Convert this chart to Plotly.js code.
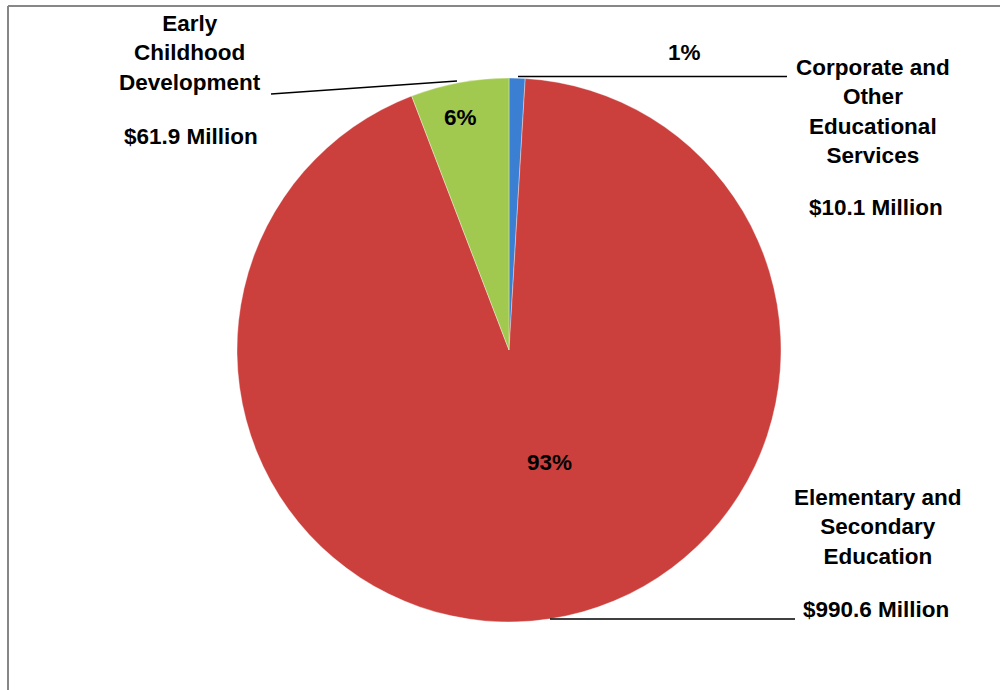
<!DOCTYPE html>
<html>
<head>
<meta charset="utf-8">
<script src="https://cdn.plot.ly/plotly-3.0.1.min.js"></script>
<style>html,body{margin:0;padding:0;background:#fff}#chart{width:1000px;height:690px}</style>
</head>
<body>
<div id="chart"></div>
<script>
const categories = ['Corporate and<br>Other<br>Educational<br>Services', 'Elementary and<br>Secondary<br>Education', 'Early<br>Childhood<br>Development'];
const valuesMillions = [10.1, 990.6, 61.9];
const sliceColors = ['#3b7fd3', '#cb403d', '#a2c94f'];

const total = valuesMillions.reduce((a, b) => a + b, 0);
const pct = valuesMillions.map(v => Math.round(v / total * 100) + '%');
const money = valuesMillions.map(v => '$' + v.toFixed(1) + ' Million');

const W = 1000, H = 690;
const px = x => x / W;
const py = y => 1 - y / H;

const font = {family: 'Liberation Sans, Arial, sans-serif', size: 22.5, color: '#000', weight: 'bold'};

const trace = {
  type: 'pie',
  labels: categories,
  values: valuesMillions,
  sort: false,
  direction: 'clockwise',
  rotation: 0,
  textinfo: 'none',
  hoverinfo: 'none',
  marker: {colors: sliceColors, line: {color: 'rgba(255,255,255,0.35)', width: 1}},
  domain: {x: [px(237), px(781)], y: [py(622), py(78)]},
  showlegend: false
};

function ann(text, x, y, extra) {
  return Object.assign({text: '<b>' + text.split('<br>').join('</b><br><b>') + '</b>', x: px(x), y: py(y), xref: 'paper', yref: 'paper',
    showarrow: false, font: font, align: 'center', xanchor: 'center', yanchor: 'middle'}, extra || {});
}

const annotations = [
  ann(categories[2], 190, 53),
  ann(money[2], 191, 136),
  ann(pct[0], 684, 53),
  ann(categories[0], 873, 112),
  ann(money[0], 876, 208),
  ann(pct[2], 460, 117),
  ann(pct[1], 549, 462),
  ann(categories[1], 878, 527),
  ann(money[1], 876, 609)
];

const shapes = [
  {type: 'line', xref: 'paper', yref: 'paper', x0: px(8), x1: px(8), y0: py(6), y1: py(690), line: {color: '#878787', width: 2}},
  {type: 'line', xref: 'paper', yref: 'paper', x0: px(8), x1: px(1000), y0: py(6), y1: py(6), line: {color: '#878787', width: 2}},
  {type: 'line', xref: 'paper', yref: 'paper', x0: px(271), x1: px(457), y0: py(94), y1: py(81), line: {color: '#000', width: 1.5}},
  {type: 'line', xref: 'paper', yref: 'paper', x0: px(518), x1: px(787), y0: py(76.5), y1: py(76.5), line: {color: '#000', width: 1.5}},
  {type: 'line', xref: 'paper', yref: 'paper', x0: px(550), x1: px(795), y0: py(619), y1: py(619), line: {color: '#000', width: 1.5}}
];

const layout = {
  width: W, height: H,
  margin: {l: 0, r: 0, t: 0, b: 0},
  paper_bgcolor: '#fff',
  plot_bgcolor: '#fff',
  showlegend: false,
  annotations: annotations,
  shapes: shapes
};

Plotly.newPlot('chart', [trace], layout, {displayModeBar: false, staticPlot: true});
</script>
</body>
</html>
